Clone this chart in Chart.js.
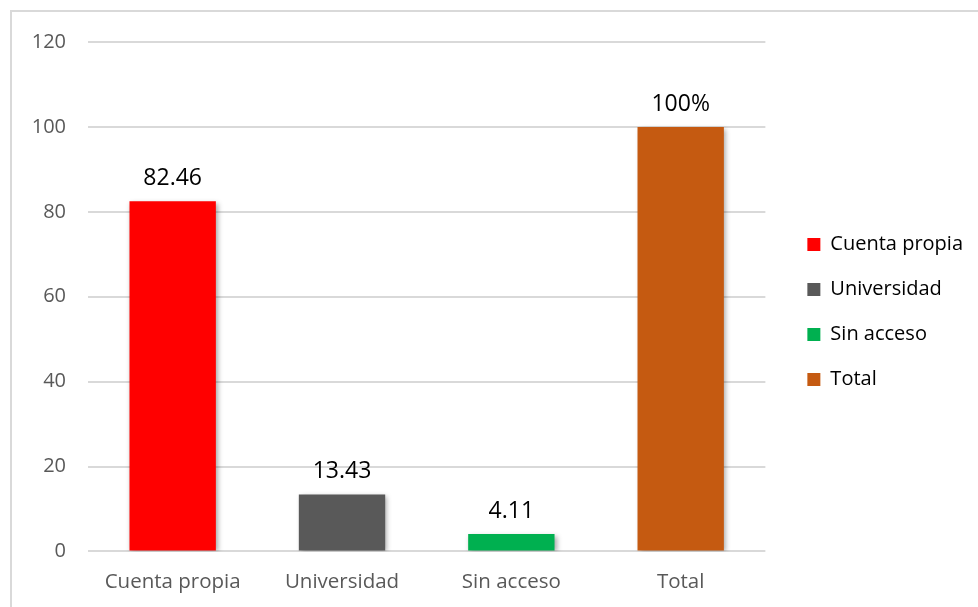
<!DOCTYPE html>
<html>
<head>
<meta charset="utf-8">
<script src="https://cdn.jsdelivr.net/npm/chart.js@4"></script>
<style>
  html, body { margin: 0; padding: 0; background: #fff; overflow: hidden; }
  #frame { position: absolute; left: 10px; top: 10px; width: 1000px; height: 700px; border: 2px solid #d9d9d9; }
  #chart { position: absolute; left: 0; top: 0; }
</style>
</head>
<body>
<div id="frame"></div>
<canvas id="chart" width="978" height="607"></canvas>
<script>
const categories = ['Cuenta propia', 'Universidad', 'Sin acceso', 'Total'];
const values = [82.46, 13.43, 4.11, 100];
const colors = ['#FF0000', '#595959', '#00B050', '#C55A11'];
const yTicks = [0, 20, 40, 60, 80, 100, 120];

const FONT = "'Open Sans', sans-serif";

function valueText(v, i) {
  return categories[i] === 'Total' ? v + '%' : v.toFixed(2);
}

// soft shadow under the bars
const barShadow = {
  id: 'barShadow',
  beforeDatasetsDraw(chart) {
    const ctx = chart.ctx;
    ctx.save();
    ctx.shadowColor = 'rgba(0,0,0,0.35)';
    ctx.shadowBlur = 5;
    ctx.shadowOffsetX = 2;
    ctx.shadowOffsetY = 2;
  },
  afterDatasetsDraw(chart) {
    chart.ctx.restore();
  }
};

// value text above each bar
const barValues = {
  id: 'barValues',
  afterDatasetsDraw(chart) {
    const ctx = chart.ctx;
    const meta = chart.getDatasetMeta(0);
    ctx.save();
    ctx.font = '23px ' + FONT;
    ctx.fillStyle = '#000';
    ctx.textAlign = 'center';
    ctx.textBaseline = 'bottom';
    meta.data.forEach((bar, i) => {
      ctx.fillText(valueText(values[i], i), bar.x, bar.y - 11);
    });
    ctx.restore();
  }
};

// wider gap between the plot and the legend, legend a bit higher
const legendShift = {
  id: 'legendShift',
  afterLayout(chart) {
    const lg = chart.legend;
    lg.left += 17;
    lg.right += 17;
    lg.top -= 15;
    lg.bottom -= 15;
  }
};

new Chart(document.getElementById('chart'), {
  type: 'bar',
  data: {
    labels: categories,
    datasets: [{
      data: values,
      backgroundColor: colors,
      borderWidth: 0,
      barPercentage: 0.51,
      categoryPercentage: 1
    }]
  },
  options: {
    responsive: false,
    animation: false,
    layout: { padding: { top: 42, right: 22, left: 12, bottom: -5 } },
    plugins: {
      tooltip: { enabled: false },
      legend: {
        position: 'right',
        labels: {
          boxWidth: 13,
          boxHeight: 13,
          padding: 25,
          color: '#595959',
          font: { family: FONT, size: 20 },
          generateLabels: () => categories.map((c, i) => ({
            text: c,
            fillStyle: colors[i],
            strokeStyle: colors[i],
            lineWidth: 0,
            hidden: false,
            index: i
          }))
        }
      }
    },
    scales: {
      x: {
        grid: { display: false, drawTicks: false },
        border: { display: false },
        ticks: { color: '#595959', font: { family: FONT, size: 20.5 }, padding: 18 }
      },
      y: {
        min: 0,
        max: 120,
        afterBuildTicks: (scale) => { scale.ticks = yTicks.map(v => ({ value: v })); },
        afterFit: (scale) => { scale.width = 76; },
        grid: { color: '#d9d9d9', lineWidth: 2, drawTicks: false },
        border: { display: false },
        ticks: { color: '#595959', font: { family: FONT, size: 20 }, padding: 22 }
      }
    }
  },
  plugins: [barShadow, barValues, legendShift]
});
</script>
</body>
</html>
